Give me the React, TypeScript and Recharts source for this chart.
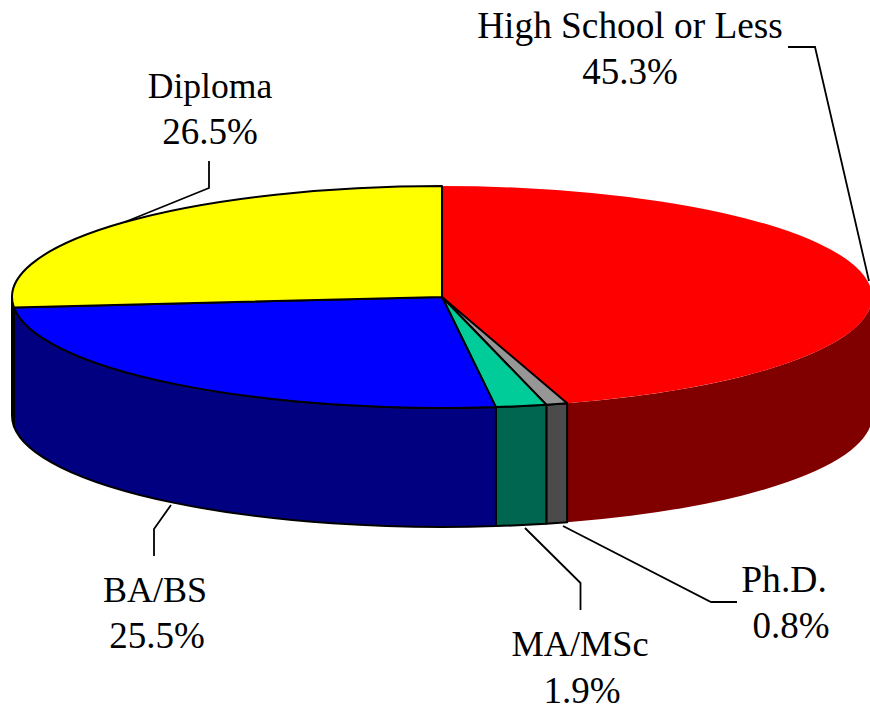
import { PieChart, Pie } from 'recharts';

const categories = ['High School or Less', 'Ph.D.', 'MA/MSc', 'BA/BS', 'Diploma'];
const shares = [45.3, 0.8, 1.9, 25.5, 26.5];

const topColors = ['#ff0000', '#969696', '#00cc99', '#0000ff', '#ffff00'];
const wallColors = ['#800000', '#4b4b4b', '#006650', '#000080', '#808000'];
const outlineColors = ['none', '#000', '#000', '#000', '#000'];

// where each label sits and how its leader line runs (page pixels)
const nameAnchors = [
  { x: 630, y: 38, size: 37.3 },
  { x: 784, y: 592, size: 37.6 },
  { x: 580, y: 656, size: 36.3 },
  { x: 155, y: 602, size: 36 },
  { x: 210, y: 98, size: 35.6 },
];
const shareAnchors = [
  { x: 630, y: 84 },
  { x: 791, y: 638 },
  { x: 582, y: 703 },
  { x: 157, y: 648 },
  { x: 210, y: 144 },
];
const leaders = [
  '788,47 815,47 869,281',
  '737,602 711,602 563,526',
  '580.5,610 580.5,583 525,528',
  '154,556 154,529 171,505',
  '209,161 209,188 125,222',
];

const chartData = categories.map((name, i) => ({ name, value: shares[i] }));

const TILT = 111 / 430;
const DEPTH = 119;
const RAD = Math.PI / 180;
const FONT = "'Liberation Serif', serif";

// Pie hands over real slice angles, we just squash the circle into the tilted ellipse
function point(cx: number, cy: number, rx: number, deg: number, drop = 0) {
  const x = cx + rx * Math.cos(deg * RAD);
  const y = cy - rx * TILT * Math.sin(deg * RAD) + drop;
  return `${x.toFixed(2)} ${y.toFixed(2)}`;
}

function TiltedSlice(props: any) {
  const { cx, cy, outerRadius: rx, startAngle, endAngle, index } = props;
  const ry = rx * TILT;
  const large = Math.abs(endAngle - startAngle) > 180 ? 1 : 0;
  const stroke = outlineColors[index];
  const top =
    `M ${cx} ${cy} L ${point(cx, cy, rx, startAngle)} ` +
    `A ${rx} ${ry} 0 ${large} 1 ${point(cx, cy, rx, endAngle)} Z`;

  // only the front half of the rim shows
  const from = Math.min(startAngle, 0);
  const to = Math.max(endAngle, -180);
  const wall =
    from > to
      ? `M ${point(cx, cy, rx, from)} A ${rx} ${ry} 0 0 1 ${point(cx, cy, rx, to)} ` +
        `L ${point(cx, cy, rx, to, DEPTH)} A ${rx} ${ry} 0 0 0 ${point(cx, cy, rx, from, DEPTH)} Z`
      : null;

  return (
    <g>
      {wall && <path d={wall} fill={wallColors[index]} stroke={stroke} strokeWidth={2} strokeLinejoin="round" />}
      <path d={top} fill={topColors[index]} stroke={stroke} strokeWidth={2} strokeLinejoin="round" />
    </g>
  );
}

function SliceLabel(props: any) {
  const { index, name, value } = props;
  const label = nameAnchors[index];
  const share = shareAnchors[index];
  return (
    <g>
      <polyline points={leaders[index]} fill="none" stroke="#000" strokeWidth={1.8} />
      <text x={label.x} y={label.y} textAnchor="middle" fontFamily={FONT} fontSize={label.size} fill="#000">
        {name}
      </text>
      <text x={share.x} y={share.y} textAnchor="middle" fontFamily={FONT} fontSize={37} fill="#000">
        {value.toFixed(1)}%
      </text>
    </g>
  );
}

export default function App() {
  return (
    <div style={{ position: 'absolute', left: 0, top: 0, width: 870, height: 706, background: '#fff', overflow: 'hidden' }}>
      <PieChart width={870} height={706} margin={{ top: 0, right: 0, bottom: 0, left: 0 }}>
        <Pie
          data={chartData}
          dataKey="value"
          nameKey="name"
          cx={442}
          cy={297}
          innerRadius={0}
          outerRadius={430}
          startAngle={90}
          endAngle={-270}
          paddingAngle={0}
          stroke="none"
          shape={TiltedSlice}
          label={SliceLabel}
          labelLine={false}
          isAnimationActive={false}
        />
      </PieChart>
    </div>
  );
}
